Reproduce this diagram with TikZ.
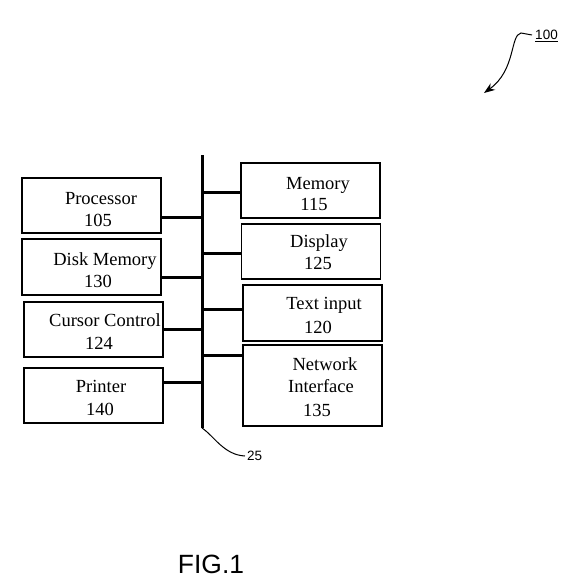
\documentclass[tikz,border=0pt]{standalone}
\usepackage{fontspec}
\setmainfont{Liberation Serif}
\newfontfamily\arialf{Liberation Sans}
\usetikzlibrary{arrows.meta}
\begin{document}
\begin{tikzpicture}[x=1pt,y=-1pt,
  box/.style={draw,line width=1.5pt,rectangle,inner sep=0pt,minimum width=139pt,minimum height=55pt},
  lbl/.style={anchor=base,inner sep=0pt,font=\fontsize{18.5}{22}\selectfont},
  conn/.style={line width=3pt},
  lead/.style={line width=1pt},
  tag/.style={inner sep=0pt,font=\arialf\fontsize{13.5}{15}\selectfont}]
\useasboundingbox[fill=white] (0,0) rectangle (565,578);

% bus
\coordinate (bustop) at (202,155);
\coordinate (busbot) at (202,428);
\draw[line width=3pt] (bustop) -- (busbot);

% left boxes
\node[box] (proc) at (91.5,205.5) {};
\node[box,minimum height=56pt] (disk) at (91.5,267) {};
\node[box] (curs) at (93.5,329.5) {};
\node[box] (prnt) at (93.5,395.5) {};
% right boxes
\node[box] (mem) at (310.5,190.5) {};
\node[box] (disp) at (311,251.5) {};
\node[box,minimum height=56pt] (txt) at (312.5,313) {};
\node[box,minimum height=81pt] (net) at (312.5,385.5) {};

% labels
\node[lbl] (proc1) at (101,204) {Processor};
\node[lbl] (proc2) at (98,226) {105};
\node[lbl] (disk1) at (105,265) {Disk Memory};
\node[lbl] (disk2) at (98,287) {130};
\node[lbl] (curs1) at (105,326) {Cursor Control};
\node[lbl] (curs2) at (99,349) {124};
\node[lbl] (prnt1) at (101,392) {Printer};
\node[lbl] (prnt2) at (100,415) {140};
\node[lbl] (mem1) at (318,189) {Memory};
\node[lbl] (mem2) at (314,210) {115};
\node[lbl] (disp1) at (319,247) {Display};
\node[lbl] (disp2) at (318,269) {125};
\node[lbl] (txt1) at (324,309) {Text input};
\node[lbl] (txt2) at (318,333) {120};
\node[lbl] (net1) at (325,370) {Network};
\node[lbl] (net2) at (321,392) {Interface};
\node[lbl] (net3) at (317,416) {135};

% connectors
\draw[conn] ([yshift=-11.5pt]proc.east) -- ([yshift=-11.5pt]proc.east -| bustop);
\draw[conn] ([yshift=-10pt]disk.east) -- ([yshift=-10pt]disk.east -| bustop);
\draw[conn] ([yshift=0.5pt]curs.east) -- ([yshift=0.5pt]curs.east -| bustop);
\draw[conn] ([yshift=13.5pt]prnt.east) -- ([yshift=13.5pt]prnt.east -| bustop);
\draw[conn] ([yshift=-1.5pt]mem.west) -- ([yshift=-1.5pt]mem.west -| bustop);
\draw[conn] ([yshift=-1.5pt]disp.west) -- ([yshift=-1.5pt]disp.west -| bustop);
\draw[conn] ([yshift=4pt]txt.west) -- ([yshift=4pt]txt.west -| bustop);
\draw[conn] ([yshift=30.5pt]net.west) -- ([yshift=30.5pt]net.west -| bustop);

% leader 25
\node[tag,anchor=west] (l25) at (247,456) {25};
\draw[lead] (busbot) .. controls (214,436) and (224,455) .. ([xshift=-2pt]l25.west);

% reference 100
\node[tag] (l100) at (546.5,35) {100};
\draw[line width=1pt] ([yshift=-1.5pt]l100.south west) -- ([yshift=-1.5pt]l100.south east);
\coordinate (tip100) at (484,93);
\draw[lead,-{Stealth[length=11pt,width=8pt]}] ([xshift=-3pt]l100.west) -- (521,33) .. controls (510,35) and (516,70) .. (tip100);

% caption
\node[inner sep=0pt,anchor=base,font=\arialf\fontsize{26.4}{30}\selectfont] (fig) at (211,573) {FIG.1};
\end{tikzpicture}
\end{document}
